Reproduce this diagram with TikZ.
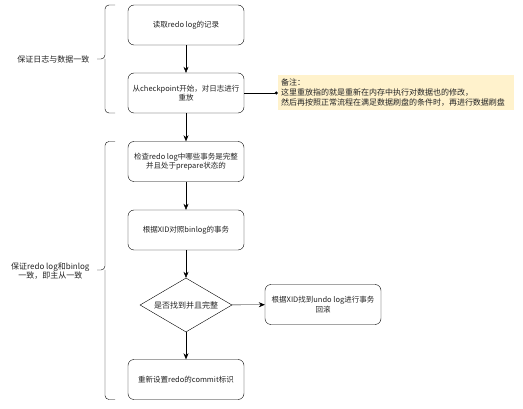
\documentclass[tikz,border=0pt]{standalone}
\usepackage{fontspec}
\setmainfont{Noto Sans CJK SC}
\usetikzlibrary{arrows.meta,positioning,shapes.geometric}
\definecolor{notefill}{HTML}{FFF2CC}
\definecolor{ink}{HTML}{222222}

\begin{document}
\begin{tikzpicture}[
  x=1pt, y=-1pt,
  every node/.style={font=\fontsize{7.5}{9.5}\selectfont, text=ink},
  stepbox/.style={draw, rounded corners=6pt, minimum width=116pt, minimum height=40pt, align=center, inner sep=1pt},
  decide/.style={draw, diamond, minimum width=92pt, minimum height=54pt, aspect=1.7, inner sep=0pt},
  flow/.style={-{Stealth[length=6pt,width=5pt]}, thin},
  bracket/.style={thin, rounded corners=4pt},
  phase/.style={anchor=east, align=center, font=\fontsize{8}{9.5}\selectfont}
]
  \useasboundingbox (0,0) rectangle (523,409);

  % recovery steps
  \node[stepbox] (read)   at (186,25)  {读取redo log的记录};
  \node[stepbox] (replay) at (186,93)  {从checkpoint开始，对日志进行\\重放};
  \node[stepbox] (check)  at (186,161.5) {检查redo log中哪些事务是完整\\并且处于prepare状态的};
  \node[stepbox] (compare) at (186,230) {根据XID对照binlog的事务};
  \node[decide]  (found)  at (186,305) {\fontsize{8}{9.5}\selectfont 是否找到并且完整};
  \node[stepbox] (rollback) at (323,304.5) {根据XID找到undo log进行事务\\回滚};
  \node[stepbox] (commit) at (186,379.5) {重新设置redo的commit标识};

  % note on replay
  \node[fill=notefill, minimum width=236pt, minimum height=35pt, text width=230pt, align=left,
        inner sep=3pt, font=\fontsize{8}{10}\selectfont] (note) at (396,93)
    {备注：\\这里重放指的就是重新在内存中执行对数据也的修改，\\然后再按照正常流程在满足数据刷盘的条件时，再进行数据刷盘};

  \draw[flow] (read) -- (replay);
  \draw[flow] (replay) -- (check);
  \draw[flow] (check) -- (compare);
  \draw[flow] (compare) -- (found);
  \draw[flow] (found) -- (rollback);
  \draw[flow] (found) -- (commit);
  \draw[thin, -{Circle[length=3pt]}] (replay) -- (note);

  % phase brackets
  \draw[bracket] (115,5) -- (105,5) -- (105,59) -- (97,59);
  \draw[bracket] (115,113) -- (105,113) -- (105,59);
  \node[phase] (phaseone) at (93,59) {保证日志与数据一致};

  \draw[bracket] (115,141.5) -- (105,141.5) -- (105,270) -- (97,270);
  \draw[bracket] (115,399.5) -- (105,399.5) -- (105,270);
  \node[phase] (phasetwo) at (93,271) {保证redo log和binlog\\一致，即主从一致};
\end{tikzpicture}
\end{document}
